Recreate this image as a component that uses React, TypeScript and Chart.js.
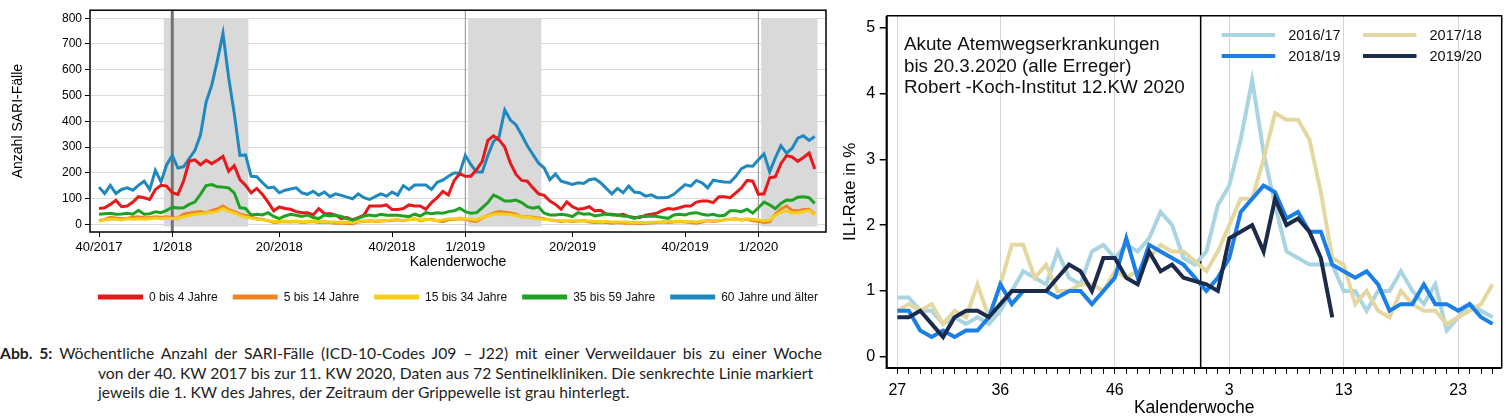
import React, { useEffect, useRef } from "react";
import { Chart, registerables } from "chart.js";

Chart.register(...registerables);

const FONT = "'Liberation Sans', Arial, Helvetica, sans-serif";

// ================= Left chart: SARI cases per week =================
const sariSegments: [number, number, number][] = [
  [2017, 40, 52],
  [2018, 1, 52],
  [2019, 1, 52],
  [2020, 1, 11],
];
const sariWeeks: string[] = sariSegments.flatMap(([yr, a, b]) =>
  Array.from({ length: b - a + 1 }, (_, k) => `${a + k}/${yr}`)
);
const sariTickLabels = ["40/2017", "1/2018", "20/2018", "40/2018", "1/2019", "20/2019", "40/2019", "1/2020"];
const sariYTicks = [0, 100, 200, 300, 400, 500, 600, 700, 800];
const yearStartWeeks = ["1/2018", "1/2019", "1/2020"];
const fluWaves: [string, string][] = [
  ["52/2017", "14/2018"],
  ["2/2019", "14/2019"],
  ["2/2020", "11/2020"],
];

const sariAge0to4 = [
  62, 65, 78, 94, 69, 72, 87, 108, 104, 97, 136, 152, 149, 123, 117, 168, 245, 251, 232, 249, 236, 249, 264, 206, 228, 174, 152, 123, 140, 117, 87, 53, 68,
  62, 59, 50, 46, 46, 37, 62, 42, 42, 36, 23, 27, 18, 27, 36, 72, 72, 72, 76, 58, 58, 62, 76, 72, 72, 59, 85, 104, 128, 114, 170, 197,
  187, 187, 213, 245, 326, 344, 328, 300, 238, 194, 171, 168, 142, 119, 113, 91, 78, 59, 88, 69, 59, 62, 69, 53, 55, 40, 40, 36, 40, 31, 27, 27,
  36, 40, 44, 55, 62, 59, 65, 72, 72, 87, 91, 91, 85, 108, 108, 104, 123, 142, 171, 168, 117, 119, 181, 185, 236, 267, 262, 245, 260, 277, 215,
];
const sariAge5to14 = [
  15, 20, 28, 25, 22, 24, 28, 30, 26, 27, 30, 28, 30,
  25, 25, 40, 45, 48, 50, 45, 55, 60, 72, 58, 50,
  40, 35, 30, 22, 20, 15, 8, 10,
  12, 10, 12, 8, 10, 12, 8, 10, 8, 5, 5, 4, 3, 10, 12, 15, 12, 14, 15, 16,
  18, 15, 20, 22, 15, 18, 20, 15, 12, 18, 20, 22,
  20, 15, 12, 25, 35, 45, 50, 48, 45, 40, 30, 30, 28, 25, 22,
  18, 15, 12, 15, 12, 14, 15, 10, 8, 10, 8, 5, 8, 6, 5, 5, 4,
  5, 6, 8, 10, 8, 10, 12, 10, 8, 5, 10, 15, 12, 15, 18, 20, 22, 18, 20, 15, 12,
  8, 10, 40, 60, 72, 55, 53, 58, 59, 40,
];
const sariAge15to34 = [
  12, 18, 20, 20, 18, 22, 20, 22, 20, 22, 25, 22, 25,
  22, 25, 30, 35, 40, 42, 45, 48, 50, 62, 52, 45,
  35, 28, 25, 20, 18, 15, 12, 12,
  14, 12, 14, 10, 12, 14, 12, 12, 10, 10, 8, 10, 8, 12, 14, 15, 14, 15, 16, 18,
  18, 16, 20, 20, 18, 20, 18, 16, 18, 22, 22, 25,
  22, 20, 18, 28, 32, 40, 42, 40, 38, 35, 30, 28, 25, 22, 20,
  18, 16, 15, 16, 14, 15, 16, 14, 12, 12, 12, 10, 10, 10, 9, 8, 8,
  8, 9, 10, 10, 12, 12, 14, 12, 12, 10, 14, 16, 15, 16, 18, 20, 20, 18, 22, 20, 18,
  15, 18, 35, 48, 53, 45, 46, 50, 55, 36,
];
const sariAge35to59 = [
  40, 42, 44, 40, 41, 44, 40, 55, 40, 42, 49, 46, 55, 67, 64, 65, 78, 87, 117, 151, 155, 146, 145, 142, 123, 65, 62, 37, 40, 37, 46, 31, 23,
  33, 40, 36, 31, 37, 27, 23, 37, 33, 36, 31, 23, 18, 24, 33, 37, 33, 40, 36, 36, 36, 33, 31, 40, 33, 46, 42, 46, 44, 50, 53, 63,
  50, 44, 46, 65, 85, 114, 104, 91, 91, 95, 85, 69, 63, 68, 44, 37, 37, 40, 37, 31, 46, 40, 42, 33, 37, 42, 37, 37, 33, 31, 24, 31,
  31, 33, 31, 27, 24, 37, 40, 37, 44, 46, 40, 36, 40, 33, 36, 53, 53, 50, 59, 44, 65, 87, 76, 62, 82, 95, 94, 106, 108, 104, 82,
];
const sariAge60plus = [
  145, 120, 152, 120, 136, 142, 133, 152, 168, 136, 210, 165, 232, 268, 219, 224, 256, 287, 347, 475, 540, 636, 741, 570, 430, 268, 270, 187, 185, 162, 142, 145, 123,
  133, 138, 142, 123, 117, 129, 114, 126, 108, 119, 113, 106, 100, 119, 104, 97, 108, 119, 110, 126, 114, 151, 135, 153, 153, 153, 136, 164, 172, 187, 200, 200,
  268, 232, 204, 204, 268, 322, 341, 444, 405, 386, 347, 305, 271, 238, 219, 174, 196, 168, 162, 155, 162, 159, 174, 177, 162, 140, 119, 140, 123, 149, 126, 123,
  110, 115, 104, 104, 106, 117, 136, 155, 149, 171, 162, 142, 172, 168, 165, 164, 187, 217, 228, 226, 251, 274, 204, 258, 306, 277, 296, 335, 344, 326, 341,
];

const sariSeries = [
  { label: "0 bis 4 Jahre", values: sariAge0to4, color: "#e8191c", order: 2 },
  { label: "5 bis 14 Jahre", values: sariAge5to14, color: "#f08424", order: 4 },
  { label: "15 bis 34 Jahre", values: sariAge15to34, color: "#f6cf1c", order: 3 },
  { label: "35 bis 59 Jahre", values: sariAge35to59, color: "#1fa224", order: 1 },
  { label: "60 Jahre und älter", values: sariAge60plus, color: "#1f89bf", order: 5 },
];

// ================= Right chart: ILI rate =================
const iliWeeks = [
  27, 28, 29, 30, 31, 32, 33, 34, 35, 36, 37, 38, 39, 40, 41, 42, 43, 44, 45, 46, 47, 48, 49, 50, 51, 52, 53,
  1, 2, 3, 4, 5, 6, 7, 8, 9, 10, 11, 12, 13, 14, 15, 16, 17, 18, 19, 20, 21, 22, 23, 24, 25, 26,
];
const iliTickWeeks = [27, 36, 46, 3, 13, 23];
const iliYTicks = [0, 1, 2, 3, 4, 5];

const ili2016 = [
  0.9, 0.9, 0.7, 0.7, 0.5, 0.6, 0.5, 0.6, 0.5, 0.7, 1.0, 1.3, 1.2, 1.1, 1.6, 1.2, 1.1, 1.6, 1.7, 1.5, 1.7, 1.6, 1.8, 2.2, 2.0, 1.5, 1.4,
  1.6, 2.3, 2.6, 3.3, 4.2, 3.1, 2.3, 1.6, 1.5, 1.4, 1.4, 1.4, 1.0, 1.0, 0.7, 1.0, 1.0, 1.3, 1.0, 0.8, 1.1, 0.4, 0.6, 0.8, 0.7, 0.6,
];
const ili2017 = [
  0.7, 0.8, 0.7, 0.8, 0.5, 0.7, 0.6, 1.1, 0.6, 1.1, 1.7, 1.7, 1.2, 1.4, 1.0, 1.0, 1.1, 1.1, 1.0, 1.3, 1.2, 1.3, 1.5, 1.7, 1.6, 1.6, 1.45,
  1.3, 1.6, 2.0, 2.4, 2.4, 3.0, 3.7, 3.6, 3.6, 3.3, 2.5, 1.5, 1.4, 0.8, 1.0, 0.7, 0.6, 1.0, 0.8, 0.7, 0.7, 0.5, 0.6, 0.7, 0.8, 1.1,
];
const ili2018 = [
  0.7, 0.7, 0.4, 0.3, 0.4, 0.3, 0.4, 0.4, 0.6, 1.1, 0.8, 1.0, 1.0, 1.0, 0.9, 1.0, 1.0, 0.8, 1.0, 1.2, 1.8, 1.2, 1.7, 1.6, 1.5, 1.4, 1.2,
  1.0, 1.2, 1.5, 2.2, 2.4, 2.6, 2.5, 2.1, 2.2, 1.9, 1.9, 1.4, 1.3, 1.2, 1.3, 1.1, 0.7, 0.8, 0.8, 1.1, 0.8, 0.8, 0.7, 0.8, 0.6, 0.5,
];
const ili2019 = [
  0.6, 0.6, 0.7, 0.5, 0.3, 0.6, 0.7, 0.7, 0.6, 0.8, 1.0, 1.0, 1.0, 1.0, 1.2, 1.4, 1.3, 1.0, 1.5, 1.5, 1.2, 1.1, 1.6, 1.3, 1.4, 1.2, 1.15,
  1.1, 1.0, 1.8, 1.9, 2.0, 1.6, 2.4, 2.0, 2.1, 1.9, 1.5, 0.6,
];

const iliSeries = [
  { label: "2016/17", values: ili2016, color: "#a9d4e2", order: 4 },
  { label: "2017/18", values: ili2017, color: "#e4d8a0", order: 3 },
  { label: "2018/19", values: ili2018, color: "#1a7fe8", order: 2 },
  { label: "2019/20", values: ili2019, color: "#1b2b4c", order: 1 },
];
const iliNote = [
  "Akute Atemwegserkrankungen",
  "bis 20.3.2020 (alle Erreger)",
  "Robert -Koch-Institut 12.KW 2020",
];

const captionLines = [
  "Wöchentliche Anzahl der SARI-Fälle (ICD-10-Codes J09 – J22) mit einer Verweildauer bis zu einer Woche",
  "von der 40. KW 2017 bis zur 11. KW 2020, Daten aus 72 Sentinelkliniken. Die senkrechte Linie markiert",
  "jeweils die 1. KW des Jahres, der Zeitraum der Grippewelle ist grau hinterlegt.",
];

// ---------------- plugins ----------------
const sariDecor = {
  id: "sariDecor",
  beforeDatasetsDraw(chart: any) {
    const { ctx, chartArea: a, scales } = chart;
    const x = scales.x;
    const y = scales.y;
    ctx.save();
    ctx.fillStyle = "#d9d9d9";
    fluWaves.forEach(([s, e]) => {
      const x0 = x.getPixelForValue(sariWeeks.indexOf(s) - 0.5);
      const x1 = x.getPixelForValue(sariWeeks.indexOf(e) + 0.5);
      const y0 = y.getPixelForValue(800);
      const y1 = y.getPixelForValue(-8);
      ctx.fillRect(x0, y0, x1 - x0, y1 - y0);
    });
    yearStartWeeks.forEach((w, k) => {
      const px = x.getPixelForValue(sariWeeks.indexOf(w));
      ctx.strokeStyle = k === 0 ? "#737373" : "#8c8c8c";
      ctx.lineWidth = k === 0 ? 3 : 1;
      ctx.beginPath();
      ctx.moveTo(px, a.top);
      ctx.lineTo(px, a.bottom);
      ctx.stroke();
    });
    ctx.restore();
  },
  afterDraw(chart: any) {
    const { ctx, chartArea: a } = chart;
    ctx.save();
    ctx.strokeStyle = "#000";
    ctx.lineWidth = 1.5;
    ctx.strokeRect(a.left, a.top, a.right - a.left, a.bottom - a.top);
    // legend
    ctx.font = `12px ${FONT}`;
    ctx.textBaseline = "middle";
    ctx.textAlign = "left";
    let cx = a.left + 8;
    const cy = 297;
    chart.data.datasets.forEach((ds: any) => {
      ctx.fillStyle = ds.borderColor;
      ctx.fillRect(cx, cy - 2.5, 45, 5);
      ctx.fillStyle = "#111";
      ctx.fillText(ds.label, cx + 51, cy + 0.5);
      cx += 51 + ctx.measureText(ds.label).width + 15;
    });
    ctx.restore();
  },
};

const iliDecor = {
  id: "iliDecor",
  beforeDatasetsDraw(chart: any) {
    const { ctx, chartArea: a, scales } = chart;
    const x = scales.x;
    const breakIdx = (iliWeeks.indexOf(53) + iliWeeks.indexOf(1)) / 2;
    const px = x.getPixelForValue(breakIdx);
    ctx.save();
    ctx.strokeStyle = "#000";
    ctx.lineWidth = 1.5;
    ctx.beginPath();
    ctx.moveTo(px, a.top);
    ctx.lineTo(px, a.bottom);
    ctx.stroke();
    ctx.restore();
  },
  afterDraw(chart: any) {
    const { ctx, chartArea: a } = chart;
    ctx.save();
    ctx.strokeStyle = "#000";
    ctx.lineWidth = 1.5;
    ctx.beginPath();
    ctx.moveTo(a.left, a.top);
    ctx.lineTo(a.right, a.top);
    ctx.lineTo(a.right, a.bottom);
    ctx.stroke();
    ctx.lineWidth = 2.2;
    ctx.beginPath();
    ctx.moveTo(a.left, a.top);
    ctx.lineTo(a.left, a.bottom);
    ctx.lineTo(a.right, a.bottom);
    ctx.stroke();
    // annotation text
    ctx.fillStyle = "#111";
    ctx.font = `18.8px ${FONT}`;
    ctx.textBaseline = "middle";
    ctx.textAlign = "left";
    iliNote.forEach((t, k) => ctx.fillText(t, a.left + 17.3, 45 + k * 21.6));
    // legend (2 columns)
    ctx.font = `14.5px ${FONT}`;
    chart.data.datasets.forEach((ds: any, k: number) => {
      const col = k % 2;
      const row = Math.floor(k / 2);
      const sx = a.left + 335 + col * 141.3;
      const sy = 35 + row * 21;
      ctx.strokeStyle = ds.borderColor;
      ctx.lineWidth = 4;
      ctx.lineCap = "butt";
      ctx.beginPath();
      ctx.moveTo(sx, sy);
      ctx.lineTo(sx + 53.5, sy);
      ctx.stroke();
      ctx.fillStyle = "#111";
      ctx.fillText(ds.label, sx + 66.5, sy + 0.5);
    });
    ctx.restore();
  },
};

function SariChart() {
  const ref = useRef<HTMLCanvasElement>(null);
  useEffect(() => {
    const chart = new Chart(ref.current as HTMLCanvasElement, {
      type: "line",
      data: {
        datasets: sariSeries.map((s) => ({
          label: s.label,
          data: s.values.map((v, i) => ({ x: i, y: v })),
          borderColor: s.color,
          backgroundColor: s.color,
          borderWidth: 3,
          pointRadius: 0,
          tension: 0,
          order: s.order,
        })),
      },
      options: {
        responsive: false,
        animation: false,
        layout: { padding: { left: 0, right: 4, top: 9, bottom: 36 } },
        plugins: { legend: { display: false }, tooltip: { enabled: false } },
        scales: {
          x: {
            type: "linear",
            min: -1.6,
            max: 129,
            afterBuildTicks: (s: any) => {
              s.ticks = sariTickLabels.map((l) => ({ value: sariWeeks.indexOf(l) }));
            },
            afterFit: (s: any) => {
              s.height = 42;
            },
            ticks: {
              autoSkip: false,
              maxRotation: 0,
              padding: 3,
              color: "#000",
              font: { size: 13, family: FONT },
              callback: (v: any) => sariWeeks[Math.round(v)],
            },
            grid: { drawOnChartArea: false, tickLength: 5, tickColor: "#000", lineWidth: 1 },
            border: { display: false },
            title: {
              display: true,
              text: "Kalenderwoche",
              color: "#000",
              font: { size: 14, family: FONT },
              padding: { top: 0, bottom: 3.6 },
            },
          },
          y: {
            type: "linear",
            min: -29,
            max: 831,
            afterBuildTicks: (s: any) => {
              s.ticks = sariYTicks.map((v) => ({ value: v }));
            },
            afterFit: (s: any) => {
              s.width = 90;
            },
            ticks: { padding: 3, color: "#000", font: { size: 12, family: FONT } },
            grid: { color: "#dadada", lineWidth: 1, tickLength: 5, tickColor: "#000" },
            border: { display: false },
            title: {
              display: true,
              text: "Anzahl SARI-Fälle",
              color: "#000",
              font: { size: 14, family: FONT },
              padding: { top: 9.6, bottom: 0 },
            },
          },
        },
      },
      plugins: [sariDecor],
    } as any);
    return () => chart.destroy();
  }, []);
  return <canvas ref={ref} width={830} height={310} style={{ position: "absolute", left: 0, top: 0 }} />;
}

function IliChart() {
  const ref = useRef<HTMLCanvasElement>(null);
  useEffect(() => {
    const chart = new Chart(ref.current as HTMLCanvasElement, {
      type: "line",
      data: {
        datasets: iliSeries.map((s) => ({
          label: s.label,
          data: s.values.map((v, i) => ({ x: i, y: v })),
          borderColor: s.color,
          backgroundColor: s.color,
          borderWidth: 4,
          pointRadius: 0,
          tension: 0,
          order: s.order,
        })),
      },
      options: {
        responsive: false,
        animation: false,
        layout: { padding: { left: 0, right: 7.3, top: 15.7, bottom: 0 } },
        plugins: { legend: { display: false }, tooltip: { enabled: false } },
        scales: {
          x: {
            type: "linear",
            min: -0.93,
            max: 52.8,
            afterBuildTicks: (s: any) => {
              s.ticks = iliWeeks.map((_, i) => ({ value: i }));
            },
            afterFit: (s: any) => {
              s.height = 52;
            },
            ticks: {
              autoSkip: false,
              maxRotation: 0,
              padding: 7,
              color: "#000",
              font: { size: 16, family: FONT },
              callback: (v: any) => {
                const w = iliWeeks[Math.round(v)];
                return iliTickWeeks.includes(w) ? String(w) : "";
              },
            },
            grid: {
              color: (c: any) =>
                c.tick && iliTickWeeks.includes(iliWeeks[Math.round(c.tick.value)]) ? "#d6d6d6" : "rgba(0,0,0,0)",
              tickColor: "#000",
              tickLength: 6,
              lineWidth: 1,
            },
            border: { display: false },
            title: {
              display: true,
              text: "Kalenderwoche",
              color: "#000",
              font: { size: 17.5, family: FONT },
              padding: { top: 0, bottom: 1.5 },
            },
          },
          y: {
            type: "linear",
            min: -0.17,
            max: 5.18,
            afterBuildTicks: (s: any) => {
              s.ticks = iliYTicks.map((v) => ({ value: v }));
            },
            afterFit: (s: any) => {
              s.width = 46.7;
            },
            ticks: { padding: 4.5, color: "#000", font: { size: 16, family: FONT } },
            grid: { drawOnChartArea: false, tickLength: 7, tickColor: "#000", lineWidth: 1.5 },
            border: { display: false },
            title: {
              display: true,
              text: "ILI-Rate in %",
              color: "#000",
              font: { size: 17, family: FONT },
              padding: { top: 0, bottom: 0 },
            },
          },
        },
      },
      plugins: [iliDecor],
    } as any);
    return () => chart.destroy();
  }, []);
  return <canvas ref={ref} width={669} height={420} style={{ position: "absolute", left: 840, top: 0 }} />;
}

export default function App() {
  const capStyle: React.CSSProperties = {
    position: "absolute",
    whiteSpace: "nowrap",
    fontFamily: "Lato, 'Open Sans', sans-serif",
    fontSize: 15.7,
    lineHeight: "19px",
    color: "#1e1e1e",
  };
  return (
    <div style={{ position: "absolute", left: 0, top: 0, width: 1509, height: 420, background: "#fff", overflow: "hidden" }}>
      <SariChart />
      <IliChart />
      <div style={{ ...capStyle, left: 0, top: 344, wordSpacing: "3px" }}>
        <b>Abb. 5:</b> {captionLines[0]}
      </div>
      <div style={{ ...capStyle, left: 98, top: 363.5 }}>{captionLines[1]}</div>
      <div style={{ ...capStyle, left: 98, top: 383 }}>{captionLines[2]}</div>
    </div>
  );
}
